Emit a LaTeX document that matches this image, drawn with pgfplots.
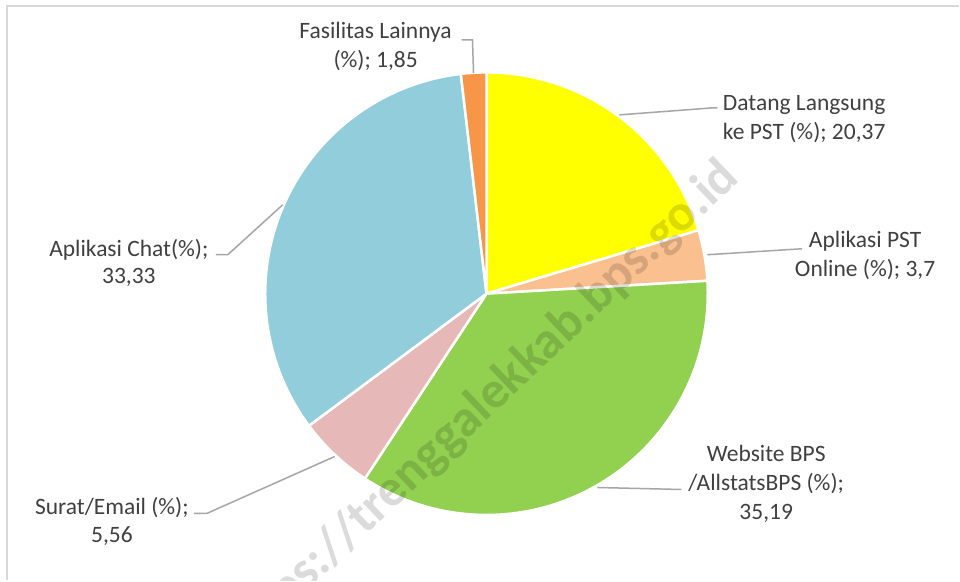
\documentclass[border=0pt]{standalone}
\usepackage{pgfplots}
\pgfplotsset{compat=1.18}
\usepackage{fontspec}
\setmainfont{Carlito}
\definecolor{cA}{HTML}{FFFF00}
\definecolor{cB}{HTML}{FAC090}
\definecolor{cC}{HTML}{92D050}
\definecolor{cD}{HTML}{E6B9B8}
\definecolor{cE}{HTML}{92CDDC}
\definecolor{cF}{HTML}{F79646}
\definecolor{txt}{HTML}{404040}
\definecolor{lead}{HTML}{A6A6A6}
\definecolor{frame}{HTML}{D9D9D9}
% data (percent)
\def\vA{20.37}% Datang Langsung ke PST
\def\vB{3.7}%   Aplikasi PST Online
\def\vC{35.19}% Website BPS /AllstatsBPS
\def\vD{5.56}%  Surat/Email
\def\vE{33.33}% Aplikasi Chat
\def\vF{1.85}%  Fasilitas Lainnya
\pgfmathsetmacro\aA{90}
\pgfmathsetmacro\aB{\aA-3.6*\vA}
\pgfmathsetmacro\aC{\aB-3.6*\vB}
\pgfmathsetmacro\aD{\aC-3.6*\vC}
\pgfmathsetmacro\aE{\aD-3.6*\vD}
\pgfmathsetmacro\aF{\aE-3.6*\vE}
\pgfmathsetmacro\aG{\aF-3.6*\vF}
\def\cx{487}\def\cy{287}\def\rr{221.5}
\begin{document}
\begin{tikzpicture}
\begin{axis}[scale only axis, width=960pt, height=581pt,
  xmin=0, xmax=960, ymin=0, ymax=581, hide axis, clip=false]
\fill[white] (axis cs:0,0) rectangle (axis cs:960,581);
\draw[frame, line width=2pt] (axis cs:7,0) -- (axis cs:7,574.5) -- (axis cs:960,574.5);
\pgfplotsset{slice/.style={draw=white, line width=2.5pt, line join=round, samples=90, variable=\t}}
\addplot[slice, fill=cA, domain=\aB:\aA] ({\cx+\rr*cos(\t)},{\cy+\rr*sin(\t)}) -- (axis cs:\cx,\cy) -- cycle;
\addplot[slice, fill=cB, domain=\aC:\aB] ({\cx+\rr*cos(\t)},{\cy+\rr*sin(\t)}) -- (axis cs:\cx,\cy) -- cycle;
\addplot[slice, fill=cC, domain=\aD:\aC] ({\cx+\rr*cos(\t)},{\cy+\rr*sin(\t)}) -- (axis cs:\cx,\cy) -- cycle;
\addplot[slice, fill=cD, domain=\aE:\aD] ({\cx+\rr*cos(\t)},{\cy+\rr*sin(\t)}) -- (axis cs:\cx,\cy) -- cycle;
\addplot[slice, fill=cE, domain=\aF:\aE] ({\cx+\rr*cos(\t)},{\cy+\rr*sin(\t)}) -- (axis cs:\cx,\cy) -- cycle;
\addplot[slice, fill=cF, domain=\aG:\aF] ({\cx+\rr*cos(\t)},{\cy+\rr*sin(\t)}) -- (axis cs:\cx,\cy) -- cycle;
% leader lines
\draw[lead, line width=1.5pt] (axis cs:462,541) -- (axis cs:473,541) -- (axis cs:474,508);
\draw[lead, line width=1.5pt] (axis cs:620,466) -- (axis cs:713,473) -- (axis cs:718,473);
\draw[lead, line width=1.5pt] (axis cs:708,326) -- (axis cs:803,332);
\draw[lead, line width=1.5pt] (axis cs:598,93) -- (axis cs:682,91);
\draw[lead, line width=1.5pt] (axis cs:194,67) -- (axis cs:207,67) -- (axis cs:335,124);
\draw[lead, line width=1.5pt] (axis cs:216,326) -- (axis cs:228,326) -- (axis cs:283,376);
% labels
\tikzset{lbl/.style={anchor=base, text=txt, inner sep=0pt, font=\fontsize{23.5}{28}\selectfont}}
\node[lbl] at (axis cs:376,542) {Fasilitas Lainnya};
\node[lbl] at (axis cs:376,513) {(\%); 1,85};
\node[lbl] at (axis cs:805,470) {Datang Langsung};
\node[lbl] at (axis cs:805,441) {ke PST (\%); 20,37};
\node[lbl] at (axis cs:866,333) {Aplikasi PST};
\node[lbl] at (axis cs:866,304) {Online (\%); 3,7};
\node[lbl] at (axis cs:767,119) {Website BPS};
\node[lbl] at (axis cs:767,90) {/AllstatsBPS (\%);};
\node[lbl] at (axis cs:767,61) {35,19};
\node[lbl] at (axis cs:112,66) {Surat/Email (\%);};
\node[lbl] at (axis cs:112,38) {5,56};
\node[lbl] at (axis cs:129,324) {Aplikasi Chat(\%);};
\node[lbl] at (axis cs:129,297) {33,33};
% watermark, clipped to the picture
\begin{scope}
\clip (axis cs:0,0) rectangle (axis cs:960,581);
\node[anchor=east, rotate=43.5, text=black, text opacity=0.14, inner sep=0pt,
  font=\fontsize{52}{60}\selectfont\bfseries] at (axis cs:732,411) {https://trenggalekkab.bps.go.id};
\end{scope}
\end{axis}
\end{tikzpicture}
\end{document}
